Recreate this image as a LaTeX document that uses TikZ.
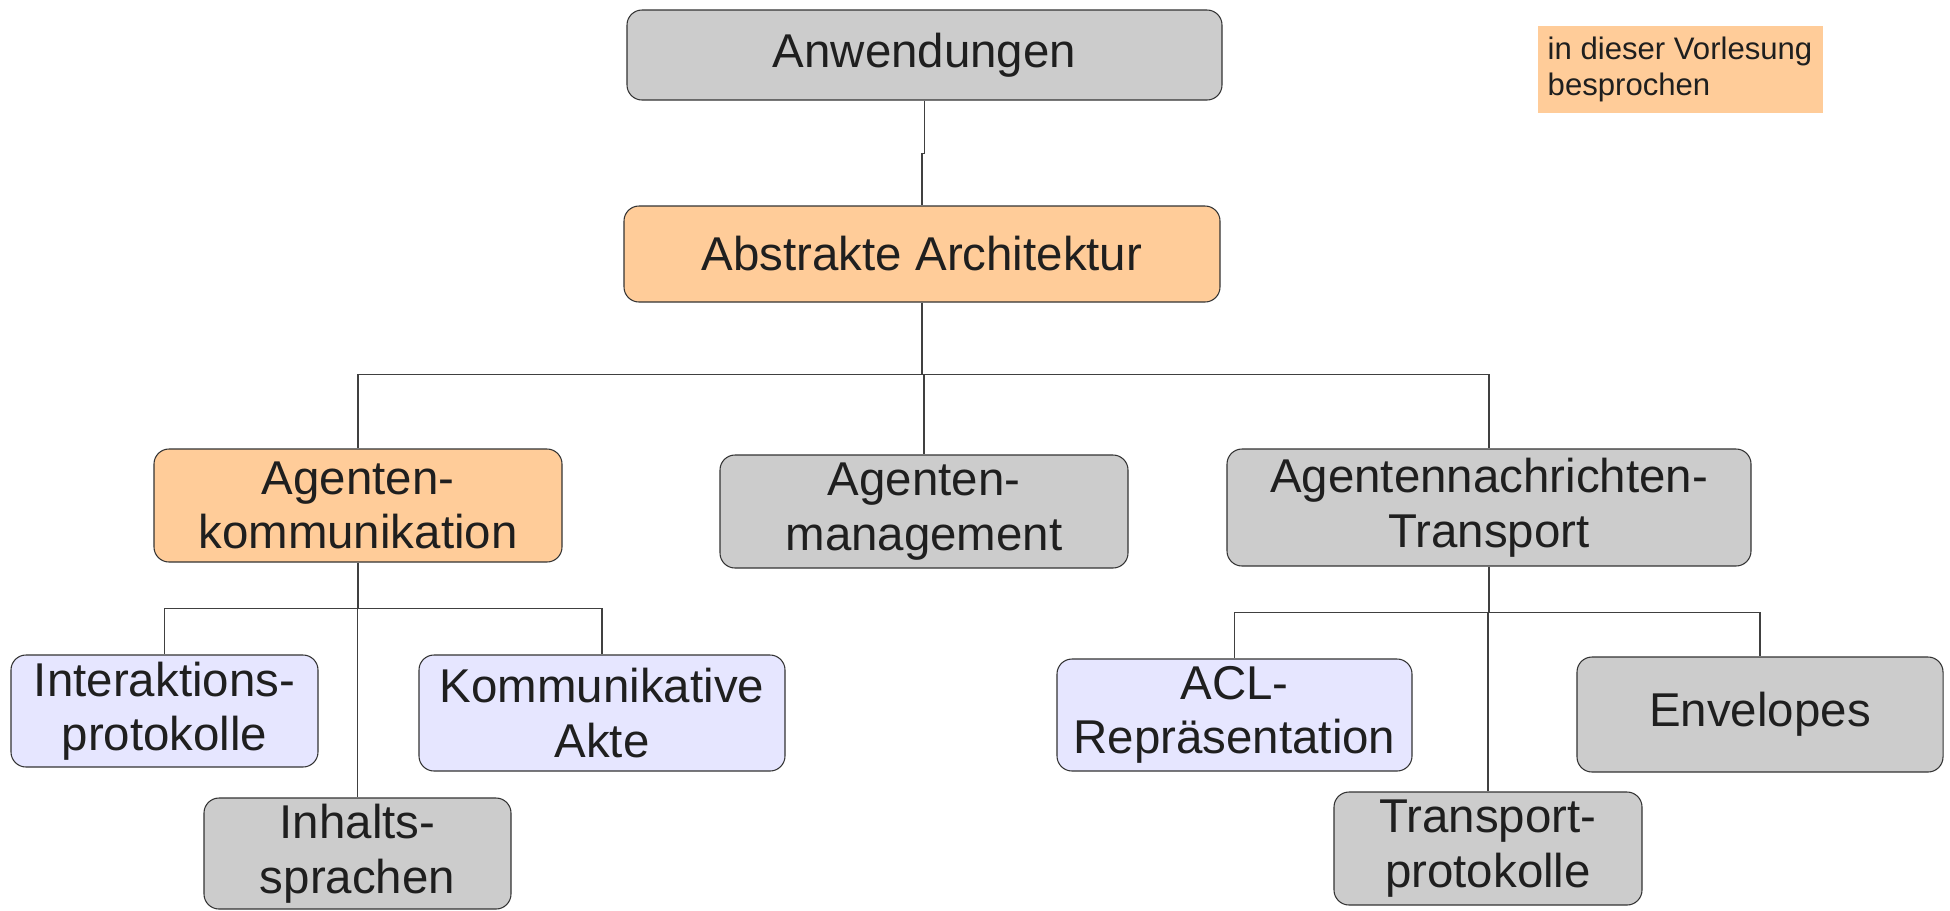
\documentclass[tikz,border=0pt]{standalone}
\usepackage{fontspec}
\setmainfont{Liberation Sans}
\usepackage{tikz}
\usetikzlibrary{calc}
\definecolor{grau}{HTML}{CCCCCC}
\definecolor{hellorange}{HTML}{FFCC99}
\definecolor{lila}{HTML}{E6E6FF}
\tikzset{
	kasten/.style={draw=black!80, line width=0.6pt, rounded corners=0.3cm, align=center, text=black!88, inner sep=0pt, font=\fontsize{27}{31}\selectfont},
	graukasten/.style={kasten, fill=grau},
	orangekasten/.style={kasten, fill=hellorange},
	lilakasten/.style={kasten, fill=lila},
	linie/.style={draw=black!75, line width=0.6pt}
}

\begin{document}
\begin{tikzpicture}
		%%%%% START %%%%%
		\useasboundingbox (0, 0) rectangle (39, -18.2);
		
		% Ebene 1 und 2
		\node[graukasten, minimum width=11.9cm, minimum height=1.8cm] (anw) at (18.49, -1.1) {Anwendungen};
		\node[orangekasten, minimum width=11.92cm, minimum height=1.92cm] (arch) at (18.44, -5.08) {Abstrakte Architektur};
		
		% Legende
		\node[fill=hellorange, text=black!88, align=left, inner sep=0pt, minimum width=5.7cm, minimum height=1.74cm, font=\fontsize{17.7}{20}\selectfont] (legende) at (33.6, -1.39) {in dieser Vorlesung\\besprochen};
		
		% Ebene 3
		\node[orangekasten, minimum width=8.16cm, minimum height=2.26cm] (komm) at (7.16, -10.11) {Agenten-\\kommunikation};
		\node[graukasten, minimum width=8.16cm, minimum height=2.26cm] (mgmt) at (18.48, -10.23) {Agenten-\\management};
		\node[graukasten, minimum width=10.48cm, minimum height=2.34cm] (trans) at (29.78, -10.15) {Agentennachrichten-\\Transport};
		
		% Ebene 4 links
		\node[lilakasten, minimum width=6.14cm, minimum height=2.24cm] (inter) at (3.29, -14.22) {Interaktions-\\protokolle};
		\node[lilakasten, minimum width=7.32cm, minimum height=2.32cm] (akte) at (12.04, -14.26) {Kommunikative\\Akte};
		\node[graukasten, minimum width=6.14cm, minimum height=2.22cm] (inhalt) at (7.15, -17.07) {Inhalts-\\sprachen};
		
		% Ebene 4 rechts
		\node[lilakasten, minimum width=7.1cm, minimum height=2.24cm] (acl) at (24.69, -14.3) {ACL-\\Repräsentation};
		\node[graukasten, minimum width=7.32cm, minimum height=2.3cm] (env) at (35.2, -14.29) {Envelopes};
		\node[graukasten, minimum width=6.16cm, minimum height=2.26cm] (tprot) at (29.76, -16.97) {Transport-\\protokolle};
		
		% Verbindungen
		\draw[linie] (anw.south) -- ++(0, -1.06) -| (arch.north);
		
		\coordinate (bus1) at ($(arch.south)+(0, -1.44)$);
		\draw[linie] (arch.south) -- (bus1) -| (komm.north);
		\draw[linie] (bus1) -| (mgmt.north);
		\draw[linie] (bus1) -| (trans.north);
		
		\coordinate (bus2) at ($(komm.south)+(0, -0.92)$);
		\draw[linie] (komm.south) -- (bus2) -| (inter.north);
		\draw[linie] (bus2) -| (akte.north);
		\draw[linie] (bus2) -| (inhalt.north);
		
		\coordinate (bus3) at ($(trans.south)+(0, -0.92)$);
		\draw[linie] (trans.south) -- (bus3) -| (acl.north);
		\draw[linie] (bus3) -| (env.north);
		\draw[linie] (bus3) -| (tprot.north);
		
		%%%%% END %%%%%
	\end{tikzpicture}
\end{document}
